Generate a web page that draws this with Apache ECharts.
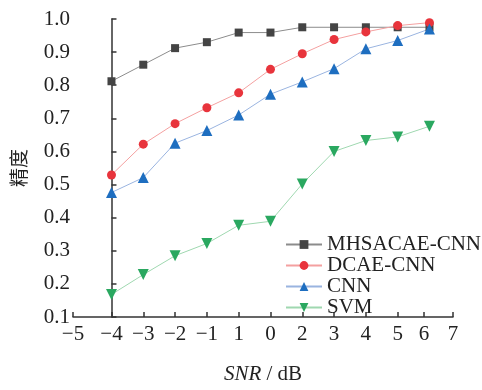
<!DOCTYPE html>
<html>
<head>
<meta charset="utf-8">
<script src="https://cdn.jsdelivr.net/npm/echarts@6/dist/echarts.min.js"></script>
<style>html,body{margin:0;padding:0;background:#fff;}#c{width:482px;height:390px;}</style>
</head>
<body>
<div id="c"></div>
<script>
// x positions of the samples along the SNR axis (axis units)
var xPos = [0, 1, 2, 3, 4, 5, 6, 7, 8, 9, 10];
// tick positions and their printed labels (as in the figure)
var tickPos = [-1.21, 0, 1, 2, 3, 4, 5, 6, 7, 8, 9, 9.83, 10.74];
var tickLabels = ['\u22125', '\u22124', '\u22123', '\u22122', '\u22121', '1', '0', '2', '3', '4', '5', '6', '7'];

var seriesNames = ['MHSACAE-CNN', 'DCAE-CNN', 'CNN', 'SVM'];
var mhsacae = [0.812, 0.862, 0.912, 0.930, 0.959, 0.959, 0.975, 0.975, 0.975, 0.975, 0.975];
var dcae    = [0.529, 0.622, 0.684, 0.732, 0.777, 0.848, 0.895, 0.938, 0.961, 0.980, 0.989];
var cnn     = [0.476, 0.521, 0.625, 0.663, 0.710, 0.773, 0.810, 0.850, 0.910, 0.935, 0.970];
var svm     = [0.168, 0.228, 0.285, 0.322, 0.377, 0.389, 0.502, 0.600, 0.633, 0.644, 0.676];

var yMin = 0.1, yMax = 1.0, yStep = 0.1;

function pairs(ys) { return xPos.map(function (x, i) { return [x, ys[i]]; }); }

var serif = 'Liberation Serif';
var chart = echarts.init(document.getElementById('c'), null, {renderer: 'canvas'});

function mk(name, data, symbol, size, mColor, lColor, rot) {
  return {
    name: name, type: 'line', data: pairs(data),
    symbol: symbol, symbolSize: size, symbolRotate: rot || 0,
    itemStyle: {color: mColor},
    lineStyle: {color: lColor, width: 1},
    emphasis: {disabled: true},
    animation: false
  };
}

chart.setOption({
  animation: false,
  grid: {left: 73, right: 29, top: 19, bottom: 63, containLabel: false},
  legend: {
    orient: 'vertical', left: 285, top: 234, padding: 0,
    itemWidth: 36, itemHeight: 11, itemGap: 0,
    textStyle: {fontFamily: serif, fontSize: 21, color: '#222', lineHeight: 19.3},
    data: seriesNames
  },
  xAxis: {
    type: 'value', min: tickPos[0], max: tickPos[tickPos.length - 1],
    name: '{i|SNR} / dB', nameLocation: 'middle', nameGap: 47,
    nameTextStyle: {fontFamily: serif, fontSize: 21, color: '#222',
      rich: {i: {fontFamily: serif, fontSize: 21, fontStyle: 'italic', color: '#222'}}},
    axisLine: {lineStyle: {color: '#333', width: 1.5}},
    axisTick: {inside: true, length: 5, customValues: tickPos, lineStyle: {color: '#333', width: 1.5}},
    axisLabel: {
      customValues: tickPos, margin: 7, fontFamily: serif, fontSize: 21, color: '#222',
      formatter: function (v) {
        var best = 0, d = 1e9;
        for (var i = 0; i < tickPos.length; i++) { var dd = Math.abs(tickPos[i] - v); if (dd < d) { d = dd; best = i; } }
        return tickLabels[best];
      }
    },
    splitLine: {show: false}
  },
  yAxis: {
    type: 'value', min: yMin, max: yMax, interval: yStep,
    name: '精度', nameLocation: 'middle', nameGap: 45, nameRotate: 90,
    nameTextStyle: {fontFamily: 'Noto Sans CJK SC', fontSize: 19, color: '#222'},
    axisLine: {show: true, lineStyle: {color: '#333', width: 1.5}},
    axisTick: {show: true, inside: true, length: 5, lineStyle: {color: '#333', width: 1.5}},
    axisLabel: {margin: 3, fontFamily: serif, fontSize: 21, color: '#222',
      formatter: function (v) { return v.toFixed(1); }},
    splitLine: {show: false}
  },
  series: [
    mk(seriesNames[0], mhsacae, 'rect', 8, '#444444', '#8c8c8c'),
    mk(seriesNames[1], dcae, 'circle', 9, '#e8343c', '#f4a0a0'),
    mk(seriesNames[2], cnn, 'triangle', 11, '#1e6ec0', '#9ab4e0'),
    mk(seriesNames[3], svm, 'triangle', 11, '#2aa860', '#9fd8b0', 180)
  ]
});
</script>
</body>
</html>
